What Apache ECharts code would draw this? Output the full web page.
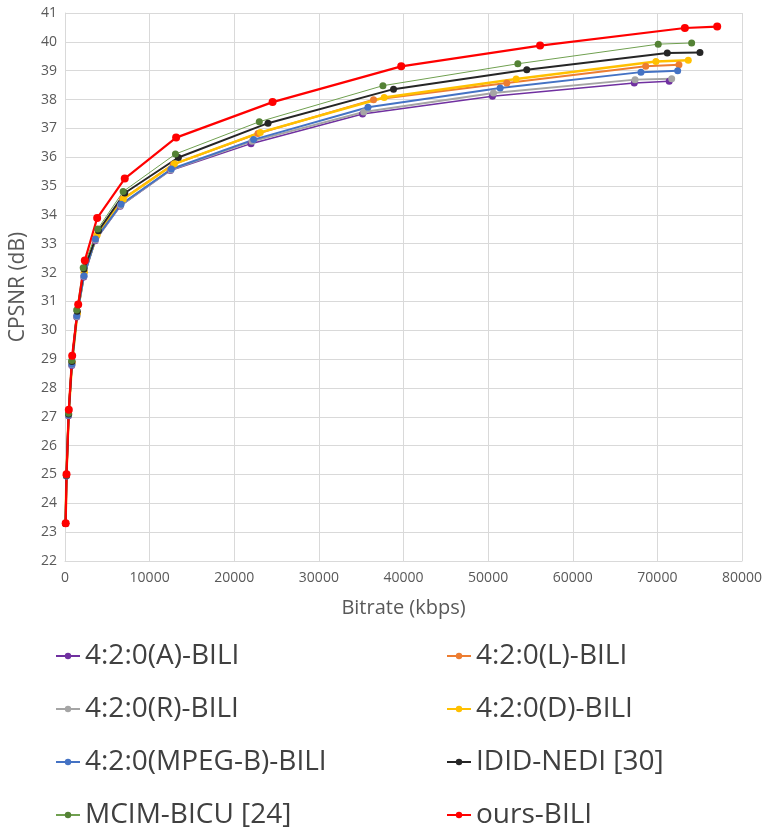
<!DOCTYPE html>
<html>
<head>
<meta charset="utf-8">
<script src="https://cdn.jsdelivr.net/npm/echarts@6/dist/echarts.min.js"></script>
<style>
  html, body { margin: 0; padding: 0; background: #fff; }
  #chart { width: 767px; height: 835px; }
</style>
</head>
<body>
<div id="chart"></div>
<script>
// bitrate (kbps) and CPSNR (dB) per method
const seriesNames = [
  "4:2:0(A)-BILI", "4:2:0(L)-BILI", "4:2:0(R)-BILI", "4:2:0(D)-BILI",
  "4:2:0(MPEG-B)-BILI", "IDID-NEDI [30]", "MCIM-BICU [24]", "ours-BILI"
];

const bitrateA = [70, 165, 420, 800, 1380, 2220, 3560, 6520, 12450, 21980, 35160, 50510, 67270, 71400];
const psnrA = [23.3, 24.95, 27.04, 28.78, 30.46, 31.85, 33.1, 34.3, 35.54, 36.47, 37.5, 38.11, 38.57, 38.63];

const bitrateL = [70, 170, 430, 830, 1460, 2260, 3750, 6800, 12800, 22800, 36460, 52210, 68620, 72550];
const psnrL = [23.3, 24.97, 27.08, 28.88, 30.58, 32.0, 33.28, 34.55, 35.75, 36.82, 37.99, 38.57, 39.15, 39.21];

const bitrateR = [70, 165, 420, 800, 1390, 2230, 3580, 6560, 12500, 22100, 35300, 50630, 67360, 71690];
const psnrR = [23.3, 24.96, 27.05, 28.8, 30.48, 31.87, 33.13, 34.33, 35.56, 36.55, 37.57, 38.23, 38.69, 38.72];

const bitrateD = [70, 170, 430, 830, 1470, 2280, 3800, 6900, 12930, 23080, 37720, 53310, 69830, 73650];
const psnrD = [23.3, 24.97, 27.08, 28.88, 30.6, 32.02, 33.31, 34.55, 35.77, 36.86, 38.07, 38.71, 39.32, 39.36];

const bitrateMPEGB = [70, 165, 420, 810, 1400, 2250, 3600, 6630, 12570, 22290, 35800, 51420, 68060, 72400];
const psnrMPEGB = [23.3, 24.96, 27.06, 28.82, 30.5, 31.89, 33.16, 34.37, 35.59, 36.61, 37.73, 38.4, 38.95, 39.0];

const bitrateIDID = [70, 175, 430, 820, 1450, 2250, 3950, 7060, 13400, 23990, 38820, 54570, 71170, 75030];
const psnrIDID = [23.3, 24.97, 27.1, 28.92, 30.66, 32.12, 33.45, 34.76, 35.99, 37.18, 38.36, 39.03, 39.61, 39.63];

const bitrateMCIM = [70, 170, 420, 800, 1380, 2150, 3870, 6870, 13050, 22960, 37570, 53510, 70100, 74050];
const psnrMCIM = [23.31, 24.98, 27.12, 28.95, 30.7, 32.17, 33.51, 34.81, 36.11, 37.23, 38.48, 39.24, 39.92, 39.96];

const bitrateOurs = [80, 180, 450, 850, 1560, 2340, 3800, 7060, 13130, 24530, 39730, 56140, 73250, 77070];
const psnrOurs = [23.31, 25.01, 27.24, 29.12, 30.89, 32.42, 33.89, 35.26, 36.68, 37.91, 39.15, 39.87, 40.48, 40.53];

const yTicks = { min: 22, max: 41, interval: 1 };
const xTicks = { min: 0, max: 80000, interval: 10000 };

const pairs = (xs, ys) => xs.map((x, i) => [x, ys[i]]);

const styles = [
  { data: pairs(bitrateA, psnrA), color: "#7030A0", width: 1.5 },
  { data: pairs(bitrateL, psnrL), color: "#ED7D31", width: 2 },
  { data: pairs(bitrateR, psnrR), color: "#A5A5A5", width: 2 },
  { data: pairs(bitrateD, psnrD), color: "#FFC000", width: 2.5 },
  { data: pairs(bitrateMPEGB, psnrMPEGB), color: "#4472C4", width: 2 },
  { data: pairs(bitrateIDID, psnrIDID), color: "#262626", width: 2 },
  { data: pairs(bitrateMCIM, psnrMCIM), color: "#548235", width: 1, lineColor: "#70A050" },
  { data: pairs(bitrateOurs, psnrOurs), color: "#FF0000", width: 2.2 },
];

const chart = echarts.init(document.getElementById("chart"));
const fontFamily = "'Open Sans', 'Noto Sans', sans-serif";

const legendText = { fontSize: 28, color: "#404040", fontFamily: fontFamily };

chart.setOption({
  animation: false,
  grid: { left: 64, right: 25, top: 13, bottom: 274 },
  legend: [
    {
      data: [seriesNames[0], seriesNames[2], seriesNames[4], seriesNames[6]],
      orient: "vertical",
      left: 50, top: 637,
      itemGap: 25, itemWidth: 24, itemHeight: 8,
      textStyle: legendText,
    },
    {
      data: [seriesNames[1], seriesNames[3], seriesNames[5], seriesNames[7]],
      orient: "vertical",
      left: 441, top: 637,
      itemGap: 25, itemWidth: 24, itemHeight: 8,
      textStyle: legendText,
    },
  ],
  xAxis: {
    type: "value",
    min: xTicks.min, max: xTicks.max, interval: xTicks.interval,
    name: "Bitrate (kbps)",
    nameLocation: "middle",
    nameGap: 37,
    nameTextStyle: { fontSize: 20, color: "#595959", fontFamily: fontFamily },
    axisLine: { show: true, lineStyle: { color: "#d9d9d9" } },
    axisTick: { show: false },
    axisLabel: {
      fontSize: 14, color: "#595959", fontFamily: fontFamily, margin: 10,
      formatter: (v) => String(v),
    },
    splitLine: { show: true, lineStyle: { color: "#d9d9d9" } },
  },
  yAxis: {
    type: "value",
    min: yTicks.min, max: yTicks.max, interval: yTicks.interval,
    name: "CPSNR (dB)",
    nameLocation: "middle",
    nameGap: 36,
    nameTextStyle: { fontSize: 21, color: "#595959", fontFamily: fontFamily },
    axisLine: { show: true, lineStyle: { color: "#d9d9d9" } },
    axisTick: { show: false },
    axisLabel: { fontSize: 14, color: "#595959", fontFamily: fontFamily, margin: 8 },
    splitLine: { show: true, lineStyle: { color: "#d9d9d9" } },
  },
  series: styles.map((s, i) => ({
    name: seriesNames[i],
    type: "line",
    data: s.data,
    symbol: "circle",
    symbolSize: i === 7 ? 8 : 7,
    itemStyle: { color: s.color },
    lineStyle: { color: s.lineColor || s.color, width: s.width },
  })),
});
</script>
</body>
</html>
